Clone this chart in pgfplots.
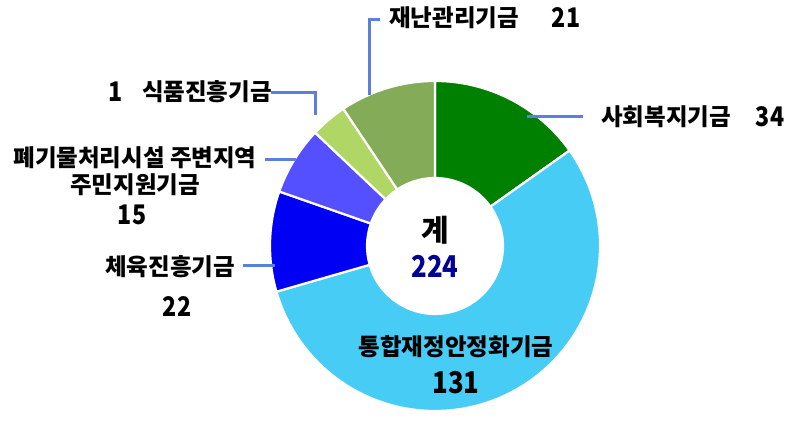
\documentclass[border=0pt]{standalone}
\usepackage{pgfplots}
\pgfplotsset{compat=1.18}
\usepackage{pgfplotstable}
\usepackage{fontspec}
\setmainfont{Noto Sans CJK KR}
\newfontfamily\krnum[FakeStretch=0.86]{Noto Sans CJK KR}
\definecolor{cGreen}{RGB}{0,128,0}
\definecolor{cLight}{RGB}{70,204,245}
\definecolor{cBlue}{RGB}{0,0,245}
\definecolor{cPurple}{RGB}{85,80,255}
\definecolor{cYellow}{RGB}{176,214,102}
\definecolor{cOlive}{RGB}{132,172,88}
\definecolor{cLead}{RGB}{91,127,220}
\definecolor{cTotal}{RGB}{0,0,150}
% slice sizes as drawn (clockwise from top)
\pgfplotstableread{
idx value
0 34
1 124
2 22
3 15
4 8
5 21
}\slices
\pgfplotstablegetelem{0}{value}\of\slices \pgfmathsetmacro\vA{\pgfplotsretval}
\pgfplotstablegetelem{1}{value}\of\slices \pgfmathsetmacro\vB{\pgfplotsretval}
\pgfplotstablegetelem{2}{value}\of\slices \pgfmathsetmacro\vC{\pgfplotsretval}
\pgfplotstablegetelem{3}{value}\of\slices \pgfmathsetmacro\vD{\pgfplotsretval}
\pgfplotstablegetelem{4}{value}\of\slices \pgfmathsetmacro\vE{\pgfplotsretval}
\pgfplotstablegetelem{5}{value}\of\slices \pgfmathsetmacro\vF{\pgfplotsretval}
\pgfmathsetmacro\tot{\vA+\vB+\vC+\vD+\vE+\vF}
\pgfmathsetmacro\k{360/\tot}
\pgfmathsetmacro\aO{90}
\pgfmathsetmacro\aA{\aO-\k*\vA}
\pgfmathsetmacro\aB{\aA-\k*\vB}
\pgfmathsetmacro\aC{\aB-\k*\vC}
\pgfmathsetmacro\aD{\aC-\k*\vD}
\pgfmathsetmacro\aE{\aD-\k*\vE}
\pgfmathsetmacro\aF{\aE-\k*\vF}
\def\cx{435}\def\cy{168}\def\Ro{165}\def\Ri{68}
\newcommand\slice[3]{% start, end, colour
  \fill[#3,draw=white,line width=2.2pt]
   (axis cs:{\cx+\Ro*cos(#1)},{\cy+\Ro*sin(#1)}) arc[start angle=#1,end angle=#2,radius=\Ro]
   -- (axis cs:{\cx+\Ri*cos(#2)},{\cy+\Ri*sin(#2)}) arc[start angle=#2,end angle=#1,radius=\Ri] -- cycle;}
\tikzset{lab/.style={font=\fontsize{23.5}{26}\selectfont\bfseries},
         num/.style={font=\fontsize{27}{30}\selectfont\krnum\bfseries}}
\begin{document}
\begin{tikzpicture}
\begin{axis}[scale only axis, width=789pt, height=414pt,
  xmin=0, xmax=789, ymin=0, ymax=414, hide axis, clip=false]
\path (axis cs:0,0) rectangle (axis cs:789,414);
\slice{\aO}{\aA}{cGreen}
\slice{\aA}{\aB}{cLight}
\slice{\aB}{\aC}{cBlue}
\slice{\aC}{\aD}{cPurple}
\slice{\aD}{\aE}{cYellow}
\slice{\aE}{\aF}{cOlive}
% leaders
\draw[cLead,line width=3pt] (axis cs:527,297) -- (axis cs:583,297);
\draw[cLead,line width=3pt] (axis cs:369,319) -- (axis cs:369,394) -- (axis cs:380,394);
\draw[cLead,line width=3pt] (axis cs:271,321) -- (axis cs:315,321) -- (axis cs:315,299);
\draw[cLead,line width=3pt] (axis cs:265,254) -- (axis cs:296,254);
\draw[cLead,line width=3pt] (axis cs:243,148) -- (axis cs:275,148);
% texts
\node[font=\fontsize{30}{32}\selectfont\bfseries] at (axis cs:435,184) {계};
\node[font=\fontsize{30}{32}\selectfont\krnum\bfseries, text=cTotal] at (axis cs:435,148) {224};
\node[lab] at (axis cs:456,67) {통합재정안정화기금};
\node[font=\fontsize{30}{32}\selectfont\krnum\bfseries] at (axis cs:456,31) {131};
\node[lab, anchor=west, inner sep=0pt] at (axis cs:601,297) {사회복지기금};
\node[num] at (axis cs:770,297) {34};
\node[lab, anchor=west, inner sep=0pt] at (axis cs:389,396) {재난관리기금};
\node[num] at (axis cs:566,396) {21};
\node[num] at (axis cs:116,322) {1};
\node[lab, anchor=east, inner sep=0pt] at (axis cs:272,322) {식품진흥기금};
\node[lab] at (axis cs:135,256) {폐기물처리시설 주변지역};
\node[lab] at (axis cs:135,229) {주민지원기금};
\node[num] at (axis cs:132,199) {15};
\node[lab] at (axis cs:170,147) {체육진흥기금};
\node[num] at (axis cs:177,107) {22};
\end{axis}
\end{tikzpicture}
\end{document}
